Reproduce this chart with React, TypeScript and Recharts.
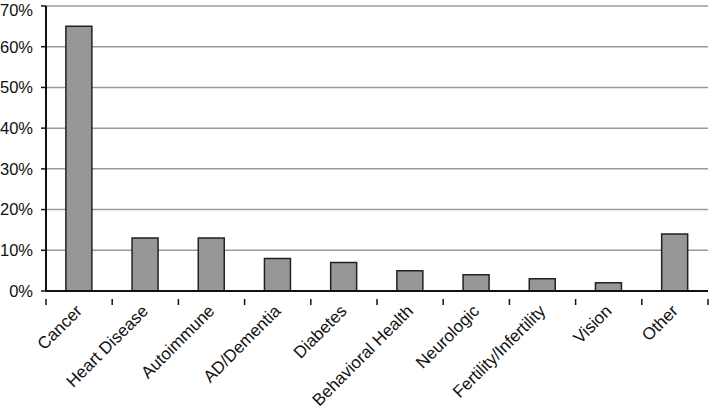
import { Bar, BarChart, CartesianGrid, XAxis, YAxis } from 'recharts'

const categories = [
  'Cancer',
  'Heart Disease',
  'Autoimmune',
  'AD/Dementia',
  'Diabetes',
  'Behavioral Health',
  'Neurologic',
  'Fertility/Infertility',
  'Vision',
  'Other',
]
const shares = [65, 13, 13, 8, 7, 5, 4, 3, 2, 14]
const yTicks = [0, 10, 20, 30, 40, 50, 60, 70]

const data = categories.map((name, i) => ({ name, value: shares[i] }))

const FONT = '"Liberation Sans", Arial, sans-serif'

function CategoryTick(props: any) {
  const { x, y, payload, index } = props
  const half = payload?.offset ?? 0
  const isLast = index === categories.length - 1
  const tx = x + 4
  const ty = y + 13
  return (
    <g>
      <line x1={x - half} y1={y} x2={x - half} y2={y + 6} stroke="#111" strokeWidth={1.5} />
      {isLast && <line x1={x + half} y1={y} x2={x + half} y2={y + 6} stroke="#111" strokeWidth={1.5} />}
      <text
        x={tx}
        y={ty}
        textAnchor="end"
        transform={`rotate(-45, ${tx}, ${ty})`}
        fontFamily={FONT}
        fontSize={17}
        fill="#111"
      >
        {payload.value}
      </text>
    </g>
  )
}

export default function App() {
  return (
    <div style={{ position: 'absolute', left: 0, top: 0, width: 709, height: 407, background: '#fff' }}>
      <BarChart
        width={709}
        height={407}
        data={data}
        margin={{ top: 6, right: 1, bottom: 0, left: 0 }}
        barCategoryGap="30%"
      >
        <CartesianGrid vertical={false} stroke="#9a9a9a" strokeWidth={1.5} />
        <XAxis
          dataKey="name"
          interval={0}
          height={116}
          tickLine={false}
          axisLine={{ stroke: '#111', strokeWidth: 2 }}
          tick={<CategoryTick />}
        />
        <YAxis
          width={46}
          domain={[0, 70]}
          ticks={yTicks}
          tickFormatter={(v: number) => `${v}%`}
          tickSize={5}
          tickMargin={8}
          tickLine={{ stroke: '#111', strokeWidth: 1.5 }}
          axisLine={{ stroke: '#111', strokeWidth: 2 }}
          tick={{ fontFamily: FONT, fontSize: 16.5, fill: '#111' }}
        />
        <Bar dataKey="value" fill="#979797" stroke="#222" strokeWidth={1.5} isAnimationActive={false} />
      </BarChart>
    </div>
  )
}
